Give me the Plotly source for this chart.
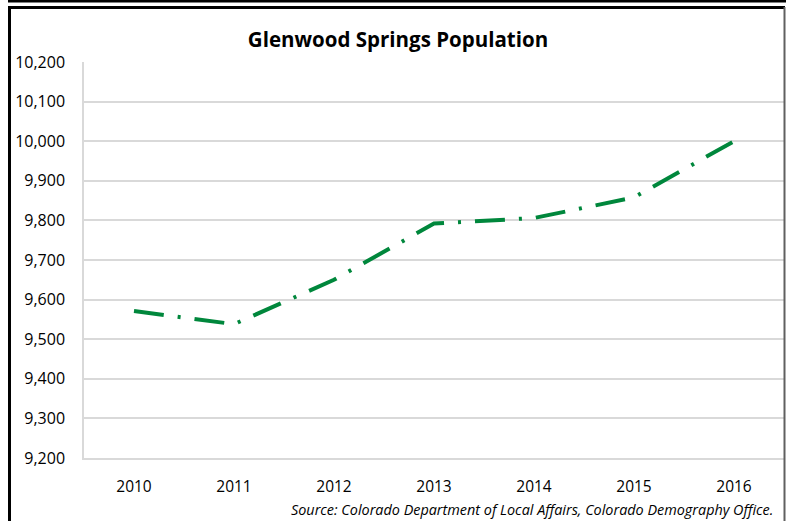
import plotly.graph_objects as go

years = ["2010", "2011", "2012", "2013", "2014", "2015", "2016"]
population = [9571, 9538, 9650, 9792, 9806, 9858, 10000]
y_ticks = [9200, 9300, 9400, 9500, 9600, 9700, 9800, 9900, 10000, 10100, 10200]
y_tick_labels = ["{:,}".format(v) for v in y_ticks]

W, H = 786, 521
L, R, T, B = 84, 2, 62, 63
PW = W - L - R
PH = H - T - B


def px(x):
    return (x - L) / PW


def py(y):
    return (H - B - y) / PH


fig = go.Figure()
fig.add_trace(go.Scatter(
    x=years, y=population, mode="lines",
    line=dict(color="#00873C", width=4, dash="30px,14px,3px,14px"),
    hoverinfo="x+y", showlegend=False,
))

font = "Open Sans, Noto Sans, sans-serif"
fig.update_layout(
    width=W, height=H,
    margin=dict(l=L, r=R, t=T, b=B, autoexpand=False),
    paper_bgcolor="white", plot_bgcolor="white",
    font=dict(family=font, color="#000000", size=15),
    title=dict(text="<b>Glenwood Springs Population</b>", x=(398) / W, xanchor="center",
               y=1 - 40 / H, yanchor="middle", yref="container",
               font=dict(size=20.5, family=font, color="#000000")),
    xaxis=dict(
        type="category", range=[-0.5, 6.5], showgrid=False, showline=True,
        linecolor="#d9d9d9", linewidth=1.5, automargin=False,
        ticks="outside", ticklen=14, tickcolor="rgba(0,0,0,0)",
        tickfont=dict(size=15.5), zeroline=False,
    ),
    yaxis=dict(
        range=[9200, 10200], tickvals=y_ticks, ticktext=y_tick_labels,
        showgrid=True, gridcolor="#d9d9d9", gridwidth=1.5, automargin=False,
        showline=True, linecolor="#d9d9d9", linewidth=1.5,
        ticks="outside", ticklen=14, tickcolor="rgba(0,0,0,0)",
        tickfont=dict(size=16), zeroline=False,
    ),
    annotations=[dict(
        text="<i>Source: Colorado Department of Local Affairs, Colorado Demography Office.</i>",
        xref="paper", yref="paper", x=px(775), y=py(509), xanchor="right", yanchor="middle",
        showarrow=False, font=dict(size=14.4, family=font, color="#000000"),
    )],
    shapes=[
        dict(type="line", xref="paper", yref="paper", x0=px(8), x1=px(790), y0=py(1), y1=py(1),
             line=dict(color="#000000", width=3)),
        dict(type="line", xref="paper", yref="paper", x0=px(9.5), x1=px(9.5), y0=py(6), y1=py(530),
             line=dict(color="#000000", width=3)),
        dict(type="line", xref="paper", yref="paper", x0=px(8), x1=px(785), y0=py(7.5), y1=py(7.5),
             line=dict(color="#000000", width=3)),
        dict(type="line", xref="paper", yref="paper", x0=px(784.5), x1=px(784.5), y0=py(7), y1=py(530),
             line=dict(color="#606060", width=2)),
    ],
)

fig.write_html("out.html")
